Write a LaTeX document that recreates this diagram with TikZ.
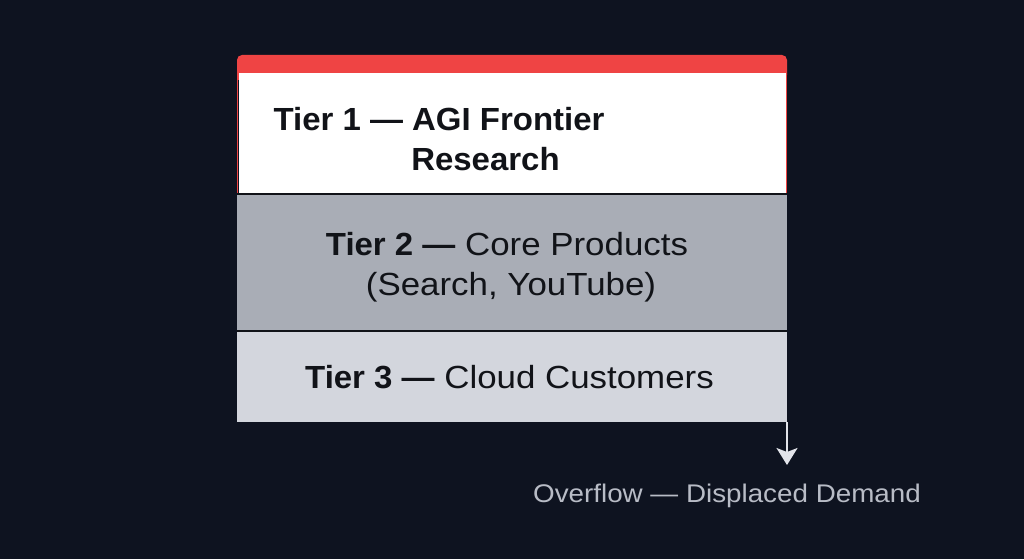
\documentclass[tikz,border=0pt]{standalone}
\usepackage{fontspec}
\setmainfont{Liberation Sans}[FakeStretch=1.09, BoldFeatures={FakeStretch=1.03}]
\usetikzlibrary{arrows.meta}
\definecolor{bg}{HTML}{0E1320}
\definecolor{redband}{HTML}{EF4444}
\definecolor{tiertwo}{HTML}{A9ADB6}
\definecolor{tierthree}{HTML}{D3D6DD}
\definecolor{ink}{HTML}{111318}
\definecolor{muted}{HTML}{B8BCC6}
\definecolor{arrowc}{HTML}{E2E4EA}
\tikzset{
  tiertext/.style={text=ink, font=\fontsize{32}{38}\selectfont, inner sep=0pt, anchor=base},
  overtext/.style={text=muted, font=\fontsize{25.5}{30}\selectfont, inner sep=0pt, anchor=base},
  divider/.style={draw=ink, line width=1.5pt},
}
\begin{document}
\begin{tikzpicture}[x=1pt,y=-1pt]
\fill[bg] (0,0) rectangle (1024,559);
\useasboundingbox (0,0) rectangle (1024,559);
% red band with rounded top
\fill[redband, rounded corners=5pt] (237,55) rectangle (787,80);
\fill[redband] (237,70) rectangle (787,80);
% tier 1
\fill[white] (238.5,73) rectangle (785.5,193);
\draw[redband, line width=1.2pt] (237.6,73) -- (237.6,193) (786.4,73) -- (786.4,193);
% tier 2
\fill[tiertwo] (237,194) rectangle (787,331);
% tier 3
\fill[tierthree] (237,331) rectangle (787,422);
\draw[divider] (237,194) -- (787,194);
\draw[divider] (237,331) -- (787,331);
\node[tiertext] (t1a) at (439,130) {\bfseries Tier 1 — AGI Frontier};
\node[tiertext] (t1b) at (485.5,170) {\bfseries Research};
\node[tiertext] (t2a) at (507,255) {\textbf{Tier 2 —} Core Products};
\node[tiertext] (t2b) at (511,295) {(Search, YouTube)};
\node[tiertext] (t3) at (509.5,388) {\textbf{Tier 3 —} Cloud Customers};
\coordinate (abot) at (787,422);
\coordinate (atip) at (787,465);
\draw[arrowc, line width=2pt, -{Stealth[width=21pt,length=17pt,inset=4pt]}] (abot) -- (atip);
\node[overtext] (ov) at (727,502) {Overflow — Displaced Demand};
\end{tikzpicture}
\end{document}
